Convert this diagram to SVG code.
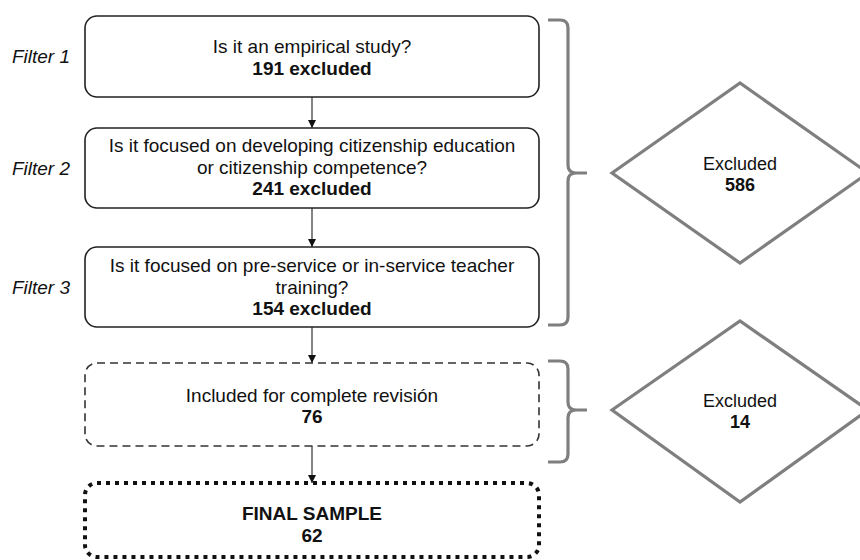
<svg xmlns="http://www.w3.org/2000/svg" width="860" height="560" viewBox="0 0 860 560">
<defs>
<marker id="ah" viewBox="0 0 10 10" refX="10" refY="5" markerWidth="8" markerHeight="8" markerUnits="userSpaceOnUse" orient="auto">
<path d="M0,0 L10,5 L0,10 Z" fill="#111"/>
</marker>
<style>
text{font-family:"Liberation Sans",Arial,sans-serif;fill:#111;text-anchor:middle}
.t{font-size:19px}
.b{font-size:19px;font-weight:bold}
.f{font-size:19px;font-style:italic;text-anchor:end}
.d{font-size:18px}
.db{font-size:18px;font-weight:bold}
.box{fill:#fff;stroke:#222;stroke-width:1.6}
.dash{fill:#fff;stroke:#333;stroke-width:1.6;stroke-dasharray:8 5}
.dot{fill:#fff;stroke:#111;stroke-width:4;stroke-dasharray:4 5}
.br{fill:none;stroke:#7f7f7f;stroke-width:3.2}
.dia{fill:#fff;stroke:#7f7f7f;stroke-width:3.2}
.c{stroke:#333;stroke-width:1.2;fill:none}
</style>
</defs>
<rect width="860" height="560" fill="#fff"/>
<g id="connectors">
<line class="c" x1="312" y1="97" x2="312" y2="128" marker-end="url(#ah)"/>
<line class="c" x1="312" y1="208" x2="312" y2="247" marker-end="url(#ah)"/>
<line class="c" x1="312" y1="327" x2="312" y2="363" marker-end="url(#ah)"/>
<line class="c" x1="312" y1="446" x2="312" y2="483" marker-end="url(#ah)"/>
</g>
<g id="filter-labels">
<text class="f" x="70" y="63">Filter 1</text>
<text class="f" x="70" y="175">Filter 2</text>
<text class="f" x="70" y="294">Filter 3</text>
</g>
<g id="filter1">
<rect class="box" x="85" y="16" width="454" height="81" rx="12"/>
<text class="t" x="312" y="53">Is it an empirical study?</text>
<text class="b" x="312" y="75">191 excluded</text>
</g>
<g id="filter2">
<rect class="box" x="85" y="128" width="454" height="80" rx="12"/>
<text class="t" x="312" y="152">Is it focused on developing citizenship education</text>
<text class="t" x="312" y="173.5">or citizenship competence?</text>
<text class="b" x="312" y="195">241 excluded</text>
</g>
<g id="filter3">
<rect class="box" x="85" y="247" width="454" height="80" rx="12"/>
<text class="t" x="312" y="272">Is it focused on pre-service or in-service teacher</text>
<text class="t" x="312" y="293.5">training?</text>
<text class="b" x="312" y="315">154 excluded</text>
</g>
<g id="included">
<rect class="dash" x="85" y="363" width="454" height="83" rx="12"/>
<text class="t" x="312" y="402">Included for complete revisión</text>
<text class="b" x="312" y="423">76</text>
</g>
<g id="final">
<rect class="dot" x="85" y="483" width="454" height="74" rx="12"/>
<text class="b" x="312" y="520">FINAL SAMPLE</text>
<text class="b" x="312" y="542">62</text>
</g>
<g id="bracket1">
<path class="br" d="M548,20 H560 Q568,20 568,28 V165 Q568,173 576,173 H587 M576,173 Q568,173 568,181 V317 Q568,325 560,325 H548"/>
</g>
<g id="bracket2">
<path class="br" d="M548,361 H560 Q568,361 568,369 V402 Q568,410 576,410 H587 M576,410 Q568,410 568,418 V454 Q568,462 560,462 H548"/>
</g>
<g id="excluded586">
<polygon class="dia" points="612,173 740,83 868,173 740,263"/>
<text class="d" x="740" y="170">Excluded</text>
<text class="db" x="740" y="191">586</text>
</g>
<g id="excluded14">
<polygon class="dia" points="612,410 740,321 868,410 740,502"/>
<text class="d" x="740" y="407">Excluded</text>
<text class="db" x="740" y="428">14</text>
</g>
</svg>
